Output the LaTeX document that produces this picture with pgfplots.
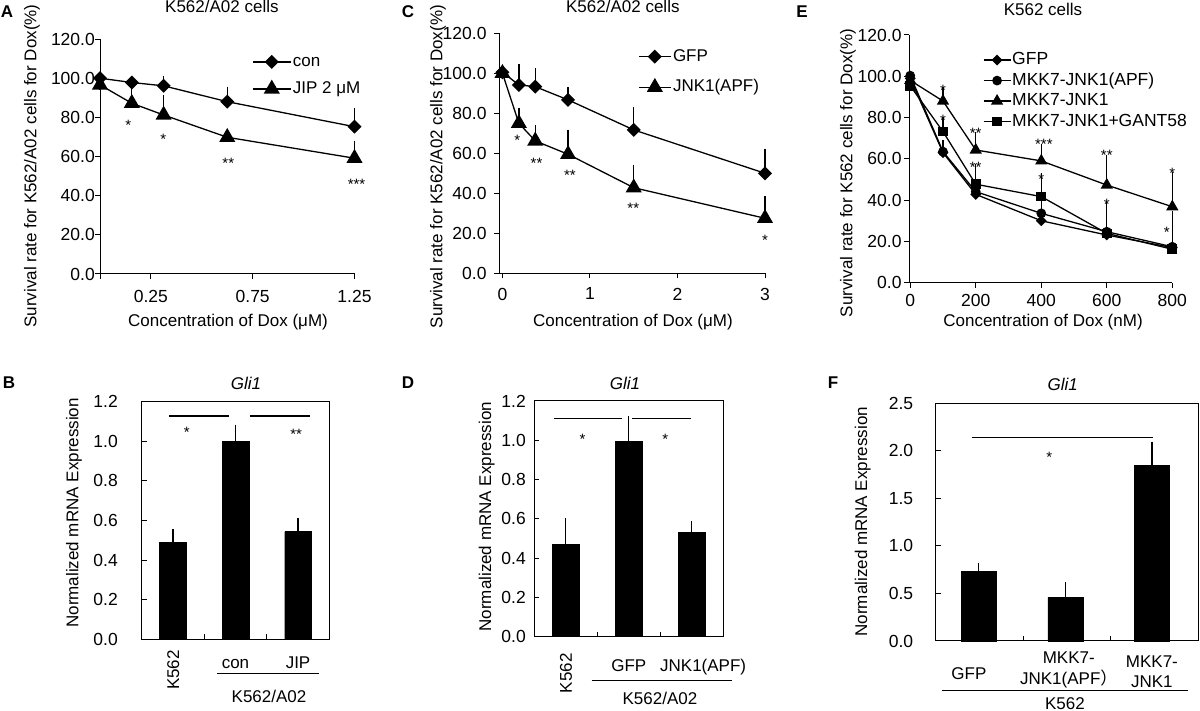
\documentclass[border=0pt]{standalone}
\usepackage{fontspec}
\setmainfont{Liberation Sans}
\newfontfamily\cjk{Noto Sans CJK SC}
\usepackage{pgfplots}
\pgfplotsset{compat=1.18}
\newcommand{\fs}{\fontsize{17}{20.4}\selectfont}
\newcommand{\ft}{\fontsize{17.5}{21}\selectfont}

\pgfplotsset{
  base/.style={scale only axis, clip=false,
    font=\fs,
    tick label style={font=\ft},
    /pgf/number format/assume math mode=true,
    yticklabel={\ft\pgfmathprintnumber{\tick}},
    axis line style={line width=1pt}, tick style={line width=1pt, black},
    major tick length=5pt,
    title style={anchor=center, yshift=0pt, font=\fs},
    xlabel style={anchor=center, font=\fs}, ylabel style={anchor=center, font=\fs}},
  survival/.style={base, axis x line*=bottom, axis y line*=left, tick align=outside,
    ymin=0, ymax=120, ytick={0,20,...,120},
    yticklabel style={/pgf/number format/fixed, /pgf/number format/fixed zerofill,
      /pgf/number format/precision=1},
    legend cell align=left,
    legend style={draw=none, fill=none, inner sep=0pt, anchor=west, font=\fs,
      nodes={inner sep=1.5pt, text height=12.5pt, text depth=3.5pt}}},
  expr/.style={base, tick align=inside, tick pos=left, xmin=-0.5, xmax=2.5,
    xtick={0.5,1.5}, xticklabels={}, ymin=0,
    yticklabel style={/pgf/number format/fixed, /pgf/number format/fixed zerofill,
      /pgf/number format/precision=1}},
  ser/.style={black, line width=1.3pt,
    error bars/y dir=plus, error bars/y explicit,
    error bars/error bar style={line width=1.3pt},
    error bars/error mark options={line width=1.3pt, mark size=5pt}},
  diam/.style={mark=square*, mark size=4.3pt, mark options={rotate=45, solid}},
  tri/.style={mark=triangle*, mark size=8pt, mark options={solid}},
  bars/.style={ybar, fill=black, draw=black,
    error bars/y dir=plus, error bars/y explicit,
    error bars/error bar style={line width=1.3pt},
    error bars/error mark options={line width=1.3pt, mark size=5.5pt}},
}
\tikzset{
  star/.style={font=\fontsize{15}{15}\selectfont, inner sep=0pt, yshift=-4pt},
  lab/.style={font=\fs, inner sep=0pt, text height=12.2pt, text depth=0pt},
  lab2/.style={font=\fontsize{17}{20.7}\selectfont, inner sep=0pt, align=center},
  sig/.style={line width=1.2pt},
  letter/.style={font=\fs\bfseries},
}

\begin{document}
\begin{tikzpicture}
\useasboundingbox (0,0) rectangle (1200pt,711pt);

% panel letters
\node[letter] at (7pt,699pt) {A};
\node[letter] at (408pt,699pt) {C};
\node[letter] at (802pt,699pt) {E};
\node[letter] at (9pt,328pt) {B};
\node[letter] at (408pt,328pt) {D};
\node[letter] at (833pt,328pt) {F};

%% A
\begin{axis}[survival, at={(100pt,437pt)}, anchor=south west,
  width=254.5pt, height=234.7pt, xmin=0, xmax=1.25,
  xtick={0,0.25,0.75,1.25}, xticklabels={,{\ft 0.25},{\ft 0.75},{\ft 1.25}},
  xticklabel style={yshift=-8pt}, yticklabel style={inner sep=0pt},
  title={K562/A02 cells}, title style={at={(axis description cs:0.479,1.116)}},
  xlabel={Concentration of Dox (μM)}, xlabel style={at={(axis description cs:0.503,-0.205)}},
  ylabel={Survival rate for K562/A02 cells for Dox(\%)}, ylabel style={at={(axis description cs:-0.267,0.46)}},
  legend style={at={(axis description cs:0.597,0.846)}, row sep=8pt},
  legend image code/.code={\draw[mark repeat=2,mark phase=2,#1] plot coordinates {(0pt,0pt)(19pt,0pt)(38pt,0pt)};}]
\addplot[ser, diam] table[x=x, y=y, y error=e] {
x y e
0 100.1 0.5
0.15625 97.9 1
0.3125 96.2 2.7
0.625 88.1 5.2
1.25 75.3 6.9
};
\addlegendentry{con}
\addplot[ser, tri] table[x=x, y=y, y error=e] {
x y e
0 96.7 0
0.15625 87.3 6.8
0.3125 81.3 7.7
0.625 69.9 1.2
1.25 59.2 6.3
};
\addlegendentry{JIP 2 μM}
\node[star] at (axis cs:0.139,78.3) {*};
\node[star] at (axis cs:0.311,71.1) {*};
\node[star] at (axis cs:0.63,58.8) {**};
\node[star] at (axis cs:1.26,48) {***};
\end{axis}

%% C
\begin{axis}[survival, at={(499.3pt,437.7pt)}, anchor=south west,
  width=265.7pt, height=240pt, xmin=-0.036, xmax=3,
  xtick={0,1,2,3}, xticklabel={\ft\pgfmathprintnumber{\tick}},
  xticklabel style={yshift=-6pt}, yticklabel style={inner sep=7.6pt},
  title={K562/A02 cells}, title style={at={(axis description cs:0.465,1.089)}},
  xlabel={Concentration of Dox (μM)}, xlabel style={at={(axis description cs:0.503,-0.203)}},
  ylabel={Survival rate for K562/A02 cells for Dox(\%)}, ylabel style={at={(axis description cs:-0.231,0.444)}},
  legend style={at={(axis description cs:0.522,0.839)}, row sep=11.6pt},
  legend image code/.code={\draw[mark repeat=2,mark phase=2,#1] plot coordinates {(0pt,0pt)(16pt,0pt)(32pt,0pt)};}]
\addplot[ser, diam] table[x=x, y=y, y error=e] {
x y e
0 100.5 0
0.1875 94.2 8
0.375 93.3 6.7
0.75 86.7 3.8
1.5 71.7 9.1
3 50 9.5
};
\addlegendentry{GFP}
\addplot[ser, tri] table[x=x, y=y, y error=e] {
x y e
0 100 0
0.1875 75 5.3
0.375 66.2 5.5
0.75 59.5 9.7
1.5 42.8 8.9
3 27.5 8.8
};
\addlegendentry{JNK1(APF)}
\node[star] at (axis cs:0.17,68.3) {*};
\node[star] at (axis cs:0.39,57.2) {**};
\node[star] at (axis cs:0.77,50.8) {**};
\node[star] at (axis cs:1.495,34.7) {**};
\node[star] at (axis cs:3,18.7) {*};
\end{axis}

%% E
\begin{axis}[survival, at={(909pt,428.3pt)}, anchor=south west,
  width=263.3pt, height=247.7pt, xmin=-3.7, xmax=800,
  xtick={0,200,400,600,800}, xticklabel={\ft\pgfmathprintnumber{\tick}},
  xticklabel style={yshift=-3.5pt}, yticklabel style={inner sep=2.3pt},
  title={K562 cells}, title style={at={(axis description cs:0.509,1.077)}},
  xlabel={Concentration of Dox (nM)}, xlabel style={at={(axis description cs:0.509,-0.159)}},
  ylabel={Survival rate for K562 cells for Dox(\%)}, ylabel style={at={(axis description cs:-0.232,0.443)}},
  legend style={at={(axis description cs:0.28,0.7745)}, row sep=2.5pt,
    font=\fontsize{17.5}{21}\selectfont, nodes={inner sep=1pt}},
  legend image code/.code={\draw[mark repeat=2,mark phase=2,#1] plot coordinates {(0pt,0pt)(13.5pt,0pt)(27pt,0pt)};}]
\addplot[ser, mark=square*, mark size=3.2pt, mark options={rotate=45, solid}] table[x=x, y=y, y error=e] {
x y e
0 99 0
100 63 2
200 42.8 3
400 30 2
600 23.1 9.4
800 17 1.5
};
\addlegendentry{GFP}
\addplot[ser, mark=*, mark size=4.2pt, mark options={solid}] table[x=x, y=y, y error=e] {
x y e
0 100.3 0
100 63.5 3
200 44.1 6.8
400 33.6 4
600 24.7 9.7
800 17.4 12.6
};
\addlegendentry{MKK7-JNK1(APF)}
\addplot[ser, mark=triangle*, mark size=5.8pt, mark options={solid}] table[x=x, y=y, y error=e] {
x y e
0 98 0
100 88 4.2
200 64.3 6.4
400 59 5.8
600 47.3 12.1
800 36.8 14.2
};
\addlegendentry{MKK7-JNK1}
\addplot[ser, mark=square*, mark size=4.2pt, mark options={solid}] table[x=x, y=y, y error=e] {
x y e
0 95.4 0
100 73.2 4.8
200 47.7 7.4
400 41.7 8.9
600 23.9 12.9
800 16.2 16.3
};
\addlegendentry{MKK7-JNK1+GANT58}
\node[star] at (axis cs:100,95) {*};
\node[star] at (axis cs:100,80.8) {*};
\node[star] at (axis cs:200,74.5) {**};
\node[star] at (axis cs:200,57.8) {**};
\node[star] at (axis cs:408,69.1) {***};
\node[star] at (axis cs:400,51.8) {*};
\node[star] at (axis cs:600,63.5) {**};
\node[star] at (axis cs:600,39.7) {*};
\node[star] at (axis cs:800,54.9) {*};
\node[star] at (axis cs:783,26.4) {*};
\end{axis}

%% B
\begin{axis}[expr, at={(141.7pt,71.7pt)}, anchor=south west,
  width=187.6pt, height=237.6pt, ymax=1.2, ytick={0,0.2,...,1.2},
  bar width=0.426, yticklabel style={inner sep=0pt, xshift=-23.7pt},
  title={\itshape Gli1}, title style={at={(axis description cs:0.556,1.052)}},
  ylabel={Normalized mRNA Expression}, ylabel style={at={(axis description cs:-0.361,0.532)}}]
\addplot[bars] table[x=x, y=y, y error=e] {
x y e
0 0.49 0.04
1 1.0 0.057
2 0.544 0.042
};
\draw[sig] (axis cs:-0.058,1.128) -- (axis cs:0.90,1.128);
\draw[sig] (axis cs:1.23,1.128) -- (axis cs:2.19,1.128);
\node[star] at (axis cs:0.22,1.065) {*};
\node[star] at (axis cs:1.97,1.053) {**};
\node[lab, rotate=90] at (axis cs:0,-0.155) {K562};
\node[lab] at (axis cs:1,-0.118) {con};
\node[lab] at (axis cs:2,-0.118) {JIP};
\draw[line width=1pt] (axis cs:0.704,-0.175) -- (axis cs:2.335,-0.175);
\node[lab] at (axis cs:1.536,-0.29) {K562/A02};
\end{axis}

%% D
\begin{axis}[expr, at={(534.3pt,74.3pt)}, anchor=south west,
  width=189pt, height=235.7pt, ymax=1.2, ytick={0,0.2,...,1.2},
  bar width=0.418, yticklabel style={inner sep=0pt, xshift=-8.3pt},
  title={\itshape Gli1}, title style={at={(axis description cs:0.48,1.047)}},
  ylabel={Normalized mRNA Expression}, ylabel style={at={(axis description cs:-0.252,0.509)}}]
\addplot[bars] table[x=x, y=y, y error=e] {
x y e
0 0.47 0.104
1 0.996 0.099
2 0.53 0.03
};
\draw[sig] (axis cs:-0.18,1.11) -- (axis cs:0.897,1.11);
\draw[sig] (axis cs:1.056,1.11) -- (axis cs:1.99,1.11);
\node[star] at (axis cs:0.267,1.027) {*};
\node[star] at (axis cs:1.58,1.027) {*};
\node[lab, rotate=90] at (axis cs:0,-0.186) {K562};
\node[lab] at (axis cs:1,-0.144) {GFP};
\node[lab] at (axis cs:2.18,-0.144) {JNK1(APF)};
\draw[line width=1pt] (axis cs:0.411,-0.225) -- (axis cs:2.633,-0.225);
\node[lab] at (axis cs:1.495,-0.314) {K562/A02};
\end{axis}

%% F
\begin{axis}[expr, at={(935.7pt,70pt)}, anchor=south west,
  width=262.6pt, height=237.7pt, ymax=2.5, ytick={0,0.5,...,2.5},
  bar width=0.40, yticklabel style={inner sep=0pt, xshift=-22.4pt},
  title={\itshape Gli1}, title style={at={(axis description cs:0.484,1.056)}},
  ylabel={Normalized mRNA Expression}, ylabel style={at={(axis description cs:-0.278,0.502)}}]
\addplot[bars] table[x=x, y=y, y error=e] {
x y e
-0.01 0.73 0.03
0.98 0.46 0.10
1.97 1.844 0.196
};
\draw[sig] (axis cs:-0.089,2.142) -- (axis cs:1.986,2.142);
\node[star] at (axis cs:0.798,1.974) {*};
\node[lab] at (axis cs:-0.12,-0.34) {GFP};
\node[lab2] at (axis cs:1.02,-0.305) {MKK7-\\JNK1(APF{\cjk ）}};
\node[lab2] at (axis cs:1.97,-0.323) {MKK7-\\JNK1};
\draw[line width=1pt] (axis cs:-0.43,-0.523) -- (axis cs:2.386,-0.523);
\node[lab] at (axis cs:0.977,-0.652) {K562};
\end{axis}
\end{tikzpicture}
\end{document}
